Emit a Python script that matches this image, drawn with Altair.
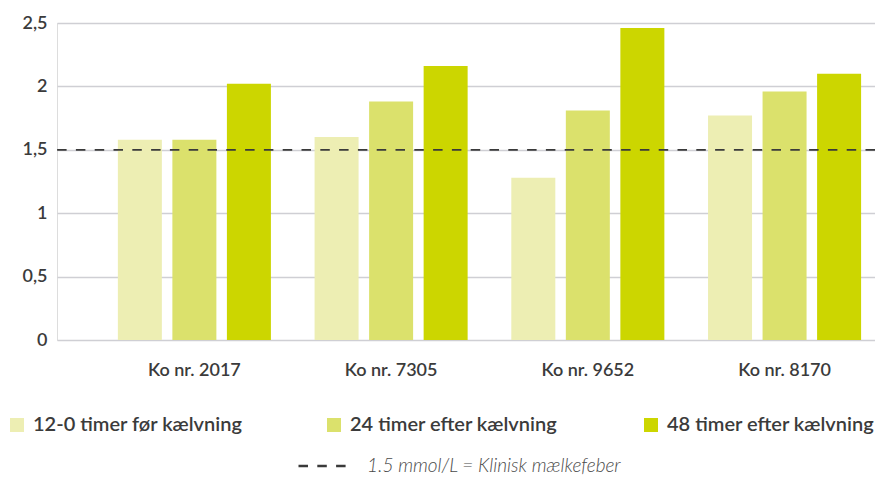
import altair as alt
import pandas as pd

cows = ["Ko nr. 2017", "Ko nr. 7305", "Ko nr. 9652", "Ko nr. 8170"]
series = ["12-0 timer før kælvning", "24 timer efter kælvning", "48 timer efter kælvning"]
v_before = [1.58, 1.60, 1.28, 1.77]
v_24 = [1.58, 1.88, 1.81, 1.96]
v_48 = [2.02, 2.16, 2.46, 2.10]
colors = ["#EDEEB3", "#DBE16C", "#CCD600"]
y_ticks = [0, 0.5, 1, 1.5, 2, 2.5]
threshold = [1.5]
threshold_label = ["1.5 mmol/L = Klinisk mælkefeber"]

rows = []
for s, vals in zip(series, [v_before, v_24, v_48]):
    for c, v in zip(cows, vals):
        rows.append({"cow": c, "series": s, "value": v})
df = pd.DataFrame(rows)
rule_df = pd.DataFrame({"value": threshold, "label": threshold_label})

FONT = "Lato"
TXT = "#3b3b3b"

bars = alt.Chart(df).mark_bar().encode(
    x=alt.X("cow:N", sort=cows,
            scale=alt.Scale(paddingInner=0.222, paddingOuter=0.19, align=0.814),
            axis=alt.Axis(title=None, labelAngle=0, ticks=False, domain=False, grid=False,
                          labelPadding=35, labelBaseline="alphabetic",
                          labelFont=FONT, labelFontSize=18, labelFontWeight=600,
                          labelColor=TXT)),
    xOffset=alt.XOffset("series:N", sort=series,
                        scale=alt.Scale(paddingInner=0.193, paddingOuter=0)),
    y=alt.Y("value:Q", scale=alt.Scale(domain=[0, 2.5], nice=False),
            axis=alt.Axis(title=None, values=y_ticks, ticks=False, domain=False,
                          labelExpr="replace(toString(datum.value), '.', ',')",
                          labelPadding=10, labelFont=FONT, labelFontSize=18,
                          labelFontWeight=600, labelColor=TXT,
                          gridColor="#cfcfd4", gridWidth=1.5)),
    color=alt.Color("series:N", sort=series,
                    scale=alt.Scale(domain=series, range=colors),
                    legend=alt.Legend(title=None, orient="none", direction="horizontal",
                                      columns=3, gridAlign="all", columnPadding=81,
                                      legendX=-50, legendY=392, padding=0,
                                      symbolType="square", symbolSize=196,
                                      symbolStrokeWidth=0, labelOffset=6,
                                      labelFont=FONT, labelFontSize=20,
                                      labelFontWeight=600, labelColor=TXT,
                                      labelLimit=400)),
)

rule = alt.Chart(rule_df).mark_rule(color="#3a3a3a", strokeWidth=1.8).encode(
    y="value:Q",
    strokeDash=alt.StrokeDash("label:N",
                              scale=alt.Scale(domain=threshold_label, range=[[9.5, 9.3]]),
                              legend=alt.Legend(title=None, orient="none",
                                                legendX=240, legendY=414, padding=0,
                                                symbolType="stroke", symbolSize=3025,
                                                symbolStrokeWidth=2.5,
                                                symbolStrokeColor="#3a3a3a",
                                                labelOffset=12,
                                                labelFont=FONT, labelFontSize=19,
                                                labelFontStyle="italic",
                                                labelFontWeight=300,
                                                labelColor="#4a4a4a",
                                                labelLimit=500)),
)

chart = alt.layer(bars, rule).properties(
    width=818, height=317,
    autosize=alt.AutoSizeParams(type="none"),
    padding={"left": 49, "top": 15, "right": 0, "bottom": 135},
).configure_view(stroke=None).configure(background="white")

chart.save("out.html", embed_options={"renderer": "svg", "actions": False})
